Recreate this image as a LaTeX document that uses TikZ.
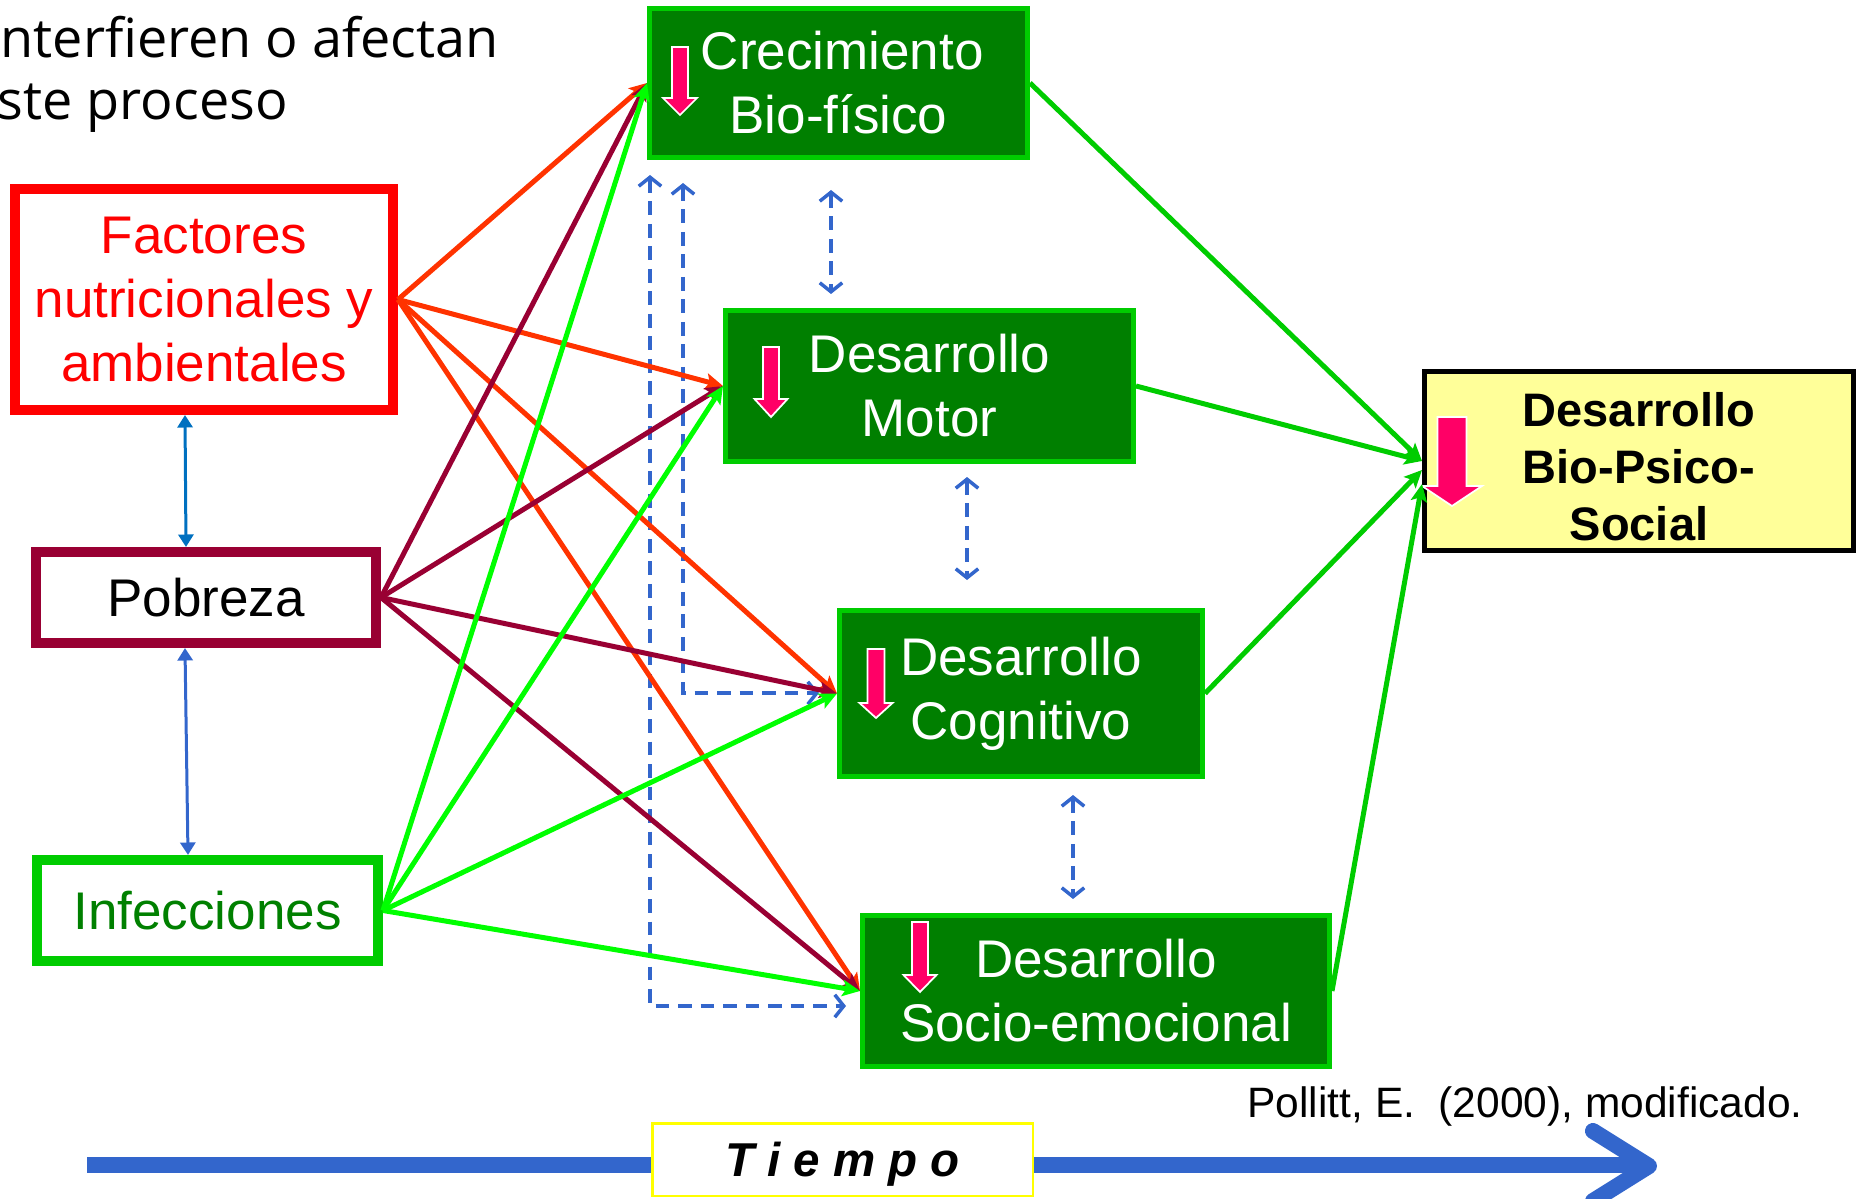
\documentclass[tikz,border=0pt]{standalone}
\usepackage{fontspec}
\setmainfont{Liberation Sans}
\newfontfamily\handfont{Open Sans}
\usetikzlibrary{arrows.meta,calc}
\definecolor{cBox}{HTML}{007F00}
\definecolor{cBrd}{HTML}{00CC00}
\definecolor{cLime}{HTML}{00FF00}
\definecolor{cOrange}{HTML}{FF3300}
\definecolor{cMaroon}{HTML}{990033}
\definecolor{cPink}{HTML}{FF0066}
\definecolor{cBlue}{HTML}{3366CC}
\definecolor{cBlueB}{HTML}{0070C0}
\definecolor{cYel}{HTML}{FFFF99}
\definecolor{cTxtGreen}{HTML}{008000}
\definecolor{cYelBrd}{HTML}{FFFF00}
\newcommand\pinkarr[6]{%
  \draw[fill=cPink,draw=white,line width=0.7pt]
    ({#1-#5},#2) -- ({#1+#5},#2) -- ({#1+#5},#3) -- ({#1+#6},#3) -- (#1,#4)
    -- ({#1-#6},#3) -- ({#1-#5},#3) -- cycle;}
\begin{document}
\begin{tikzpicture}[x=0.4pt,y=-0.4pt,
  bigfont/.style={font=\fontsize{21.2}{25.6}\selectfont},
  devbox/.style={draw=cBrd,fill=cBox,line width=2pt,text=white,align=center,inner sep=0pt,bigfont},
  factbox/.style={fill=white,line width=4pt,align=center,inner sep=0pt,bigfont},
  conn/.style={line width=2pt,-{Stealth[length=7pt,width=6.5pt,inset=1.5pt]}},
  rel/.style={line width=1.2pt,{Triangle[length=5pt,width=6pt]}-{Triangle[length=5pt,width=6pt]}},
  dashlink/.style={cBlue,line width=1.4pt,dash pattern=on 5.5pt off 3.5pt,
    {Straight Barb[length=3.6pt,width=9pt]}-{Straight Barb[length=3.6pt,width=9pt]}},
  timeline/.style={cBlue,line width=6.4pt}
]
\useasboundingbox (0,0) rectangle (1862,1199);

% top-left text
\node[anchor=base west,inner sep=0pt,font=\handfont\fontsize{21.6}{24.8}\selectfont] (hand1) at (0,58) {nterfieren o afectan};
\node[anchor=base west,inner sep=0pt,font=\handfont\fontsize{21.6}{24.8}\selectfont] (hand2) at (-3,120) {ste proceso};

% boxes
\node[devbox,minimum width=151.2pt,minimum height=59.6pt] (crec) at (838.5,83) {\hspace*{3pt}Crecimiento\\Bio-físico};
\node[devbox,minimum width=163.2pt,minimum height=60.4pt] (motor) at (929.5,386) {Desarrollo\\Motor};
\node[devbox,minimum width=145.2pt,minimum height=66.4pt] (cog) at (1021,693.5) {Desarrollo\\Cognitivo};
\node[devbox,minimum width=186.8pt,minimum height=60.4pt] (socio) at (1096,991) {Desarrollo\\Socio-emocional};
\node[draw=black,fill=cYel,line width=2pt,align=center,inner sep=0pt,minimum width=171.6pt,minimum height=71.6pt,
      font=\bfseries\fontsize{18.8}{22.8}\selectfont] (bps) at (1639,461) {\rule{0pt}{18.5pt}Desarrollo\\Bio-Psico-\\Social};

\node[factbox,draw=red,text=red,minimum width=151.2pt,minimum height=88.4pt] (fac) at (204,299.5) {Factores\\nutricionales y\\ambientales};
\node[factbox,draw=cMaroon,text=black,minimum width=136pt,minimum height=36.4pt] (pob) at (206,597.5) {Pobreza};
\node[factbox,draw=cBrd,text=cTxtGreen,minimum width=136.4pt,minimum height=40.4pt] (inf) at (207.5,910.5) {Infecciones};

% pink arrows
\pinkarr{680}{47}{98}{115}{8}{17}
\pinkarr{771}{347}{399}{417}{8}{16.5}
\pinkarr{876}{649}{703}{718}{8.5}{16.5}
\pinkarr{920}{922}{975}{992}{8}{16.5}
\pinkarr{1452}{417}{486}{506}{14.5}{30}

% dashed relations
\coordinate (d1a) at (831,190); \coordinate (d1b) at (831,294);
\coordinate (d2a) at (967,477); \coordinate (d2b) at (967,580);
\coordinate (d3a) at (1073,795); \coordinate (d3b) at (1073,899);
\coordinate (l1a) at (683,183); \coordinate (l1b) at (819,693);
\coordinate (l2a) at (650,175); \coordinate (l2b) at (846,1006);
\draw[dashlink] (d1a) -- (d1b);
\draw[dashlink] (d2a) -- (d2b);
\draw[dashlink] (d3a) -- (d3b);
\draw[dashlink] (l1a) |- (l1b);
\draw[dashlink] (l2a) |- (l2b);

% blue relations between factors
\draw[rel,cBlueB] ([xshift=-7.6pt]fac.south) -- ([xshift=-8pt]pob.north);
\draw[rel,cBlue] ([xshift=-8.4pt]pob.south) -- ([xshift=-7.8pt]inf.north);

% connectors
\foreach \t in {crec,motor,cog,socio} \draw[conn,cOrange] (fac.east) -- (\t.west);
\foreach \t in {crec,motor,cog,socio} \draw[conn,cMaroon] (pob.east) -- (\t.west);
\foreach \t in {crec,motor,cog,socio} \draw[conn,cLime] (inf.east) -- (\t.west);

\draw[conn,cBrd] (crec.east) -- (bps.west);
\draw[conn,cBrd] (motor.east) -- (bps.west);
\draw[conn,cBrd] (cog.east) -- ([yshift=-3.6pt]bps.west);
\draw[conn,cBrd] (socio.east) -- ([yshift=-9.2pt]bps.west);

% time axis
\coordinate (tA) at (87,1165); \coordinate (tB) at (1645,1165);
\coordinate (cvA) at (1593,1131); \coordinate (cvT) at (1649,1166); \coordinate (cvB) at (1593,1201);
\draw[timeline] (tA) -- (tB);
\draw[timeline,line cap=round,line join=round] (cvA) -- (cvT) -- (cvB);
\node[draw=cYelBrd,fill=white,line width=1pt,inner sep=0pt,minimum width=152.2pt,minimum height=29pt,
      text depth=0pt,font=\bfseries\itshape\fontsize{19}{22}\selectfont] (tiempo) at (842.5,1159.5) {T i e m p o};

\node[anchor=base west,inner sep=0pt,font=\fontsize{17}{20}\selectfont] (src) at (1247,1117) {Pollitt, E.\ \ (2000), modificado.};
\end{tikzpicture}
\end{document}
